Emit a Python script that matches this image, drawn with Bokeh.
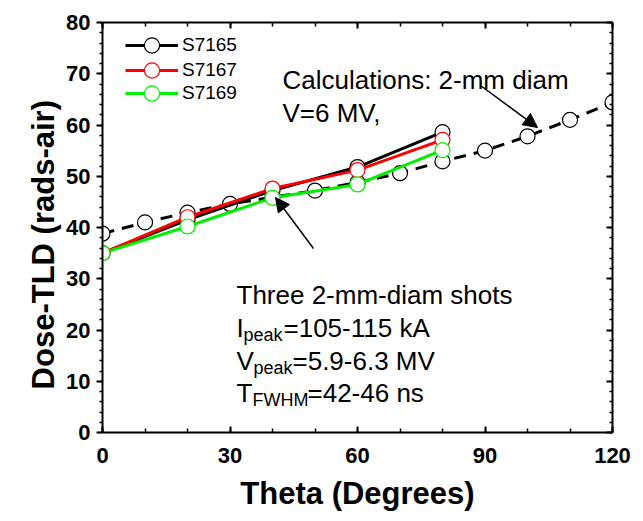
from bokeh.plotting import figure
from bokeh.models import (FixedTicker, LinearAxis, Range1d, Legend, LegendItem,
                          Label, Arrow, NormalHead)
from bokeh.embed import file_html
from bokeh.resources import INLINE

# ---- data ----
theta_calc = [0, 10, 20, 30, 40, 50, 60, 70, 80, 90, 100, 110, 120]
dose_calc = [38.8, 41.0, 42.9, 44.6, 45.9, 47.2, 48.8, 50.6, 52.9, 55.0, 57.8, 61.0, 64.4]

theta_meas = [0, 20, 40, 60, 80]
dose_s7165 = [35.0, 41.5, 47.2, 51.8, 58.6]
dose_s7167 = [35.0, 42.0, 47.6, 51.2, 57.1]
dose_s7169 = [35.0, 40.2, 45.8, 48.4, 55.1]

series_names = ["S7165", "S7167", "S7169"]
series_colors = ["black", "#ff0000", "#00ee00"]

x_major = [0, 30, 60, 90, 120]
x_minor = list(range(0, 121, 10))
y_major = list(range(0, 81, 10))
y_minor = list(range(0, 81, 2))

FONT = "Liberation Sans"

p = figure(frame_width=510, frame_height=410, output_backend="svg",
           toolbar_location=None, x_range=Range1d(0, 120), y_range=Range1d(0, 80),
           min_border_left=102, min_border_top=22, min_border_right=23,
           min_border_bottom=81, background_fill_color="white")
p.outline_line_color = None
p.xgrid.visible = False
p.ygrid.visible = False
p.xaxis.visible = False
p.yaxis.visible = False

def style_axis(ax, ticks, minor, tin, tout, mtin, mtout, labels=True):
    ax.ticker = FixedTicker(ticks=ticks, minor_ticks=minor)
    ax.axis_line_width = 2
    ax.axis_line_color = "black"
    ax.major_tick_line_width = 2
    ax.minor_tick_line_width = 1.5
    ax.major_tick_in = tin
    ax.major_tick_out = tout
    ax.minor_tick_in = mtin
    ax.minor_tick_out = mtout
    ax.major_label_text_font = FONT
    ax.major_label_text_font_style = "bold"
    ax.major_label_text_font_size = "22px"
    ax.major_label_text_color = "black"
    ax.axis_label_text_font = FONT
    ax.axis_label_text_font_style = "bold"
    ax.axis_label_text_font_size = "31px"
    ax.axis_label_text_color = "black"
    if not labels:
        ax.major_label_text_font_size = "0px"
        ax.major_label_text_alpha = 0

bottom = LinearAxis(axis_label="Theta (Degrees)")
style_axis(bottom, x_major, x_minor, 6, 0, 4, 0)
bottom.major_label_standoff = 15
bottom.axis_label_standoff = 10
p.add_layout(bottom, "below")

left = LinearAxis(axis_label="Dose-TLD (rads-air)\u00a0\u00a0\u00a0\u00a0")
style_axis(left, y_major, y_minor, 0, 6, 0, 3)
left.major_label_standoff = 6
left.axis_label_standoff = 2
p.add_layout(left, "left")

top = LinearAxis()
style_axis(top, x_major, x_minor, 6, 0, 4, 0, labels=False)
p.add_layout(top, "above")

right = LinearAxis()
style_axis(right, y_major, y_minor, 6, 0, 3, 0, labels=False)
p.add_layout(right, "right")

# ---- series ----
p.line(theta_calc, dose_calc, line_color="black", line_width=3, line_dash="12 8")
p.scatter(theta_calc, dose_calc, size=15, fill_color="white",
          line_color="black", line_width=1.2)

legend_bottoms = [368, 343, 320]
for data, color, name, lb in zip([dose_s7165, dose_s7167, dose_s7169],
                                 series_colors, series_names, legend_bottoms):
    ln = p.line(theta_meas, data, line_color=color, line_width=3)
    sc = p.scatter(theta_meas, data, size=15, fill_color="white",
                   line_color=color, line_width=1.2)
    lg = Legend(items=[LegendItem(label=name, renderers=[ln, sc])],
                location=(23, lb), glyph_width=53, glyph_height=38,
                label_height=38, spacing=0, padding=0, margin=0,
                border_line_color=None, background_fill_alpha=0,
                label_standoff=4)
    lg.label_text_font = FONT
    lg.label_text_font_size = "19px"
    lg.label_text_color = "black"
    p.add_layout(lg, "center")

# ---- annotations ----
def px2x(px):
    return (px - 102) / 4.25

def px2y(py):
    return (432 - py) / 5.125

def lab(txt, px, py, size):
    p.add_layout(Label(x=px2x(px), y=px2y(py), text=txt, text_font=FONT,
                       text_font_size=size, text_color="black",
                       text_baseline="alphabetic", text_align="left"))

BIG = "26px"
SUB = "18px"
lab("Calculations: 2-mm diam", 282, 79, BIG)
lab("V=6 MV,", 282, 112, BIG)
lab("Three 2-mm-diam shots", 236, 294, BIG)
lab("I", 236, 327, BIG)
lab("peak", 243, 334, SUB)
lab("=105-115 kA", 283, 327, BIG)
lab("V", 236, 360, BIG)
lab("peak", 253, 367, SUB)
lab("=5.9-6.3 MV", 292, 360, BIG)
lab("T", 236, 392, BIG)
lab("FWHM", 252, 399, SUB)
lab("=42-46 ns", 307, 392, BIG)

for (x0, y0, x1, y1) in [(480, 85, 537, 127), (313, 248, 275, 197)]:
    p.add_layout(Arrow(x_start=px2x(x0), y_start=px2y(y0), x_end=px2x(x1),
                       y_end=px2y(y1), line_width=1.5, line_color="black",
                       end=NormalHead(size=14, fill_color="black",
                                      line_color="black")))

open("out.html", "w").write(file_html(p, INLINE))
